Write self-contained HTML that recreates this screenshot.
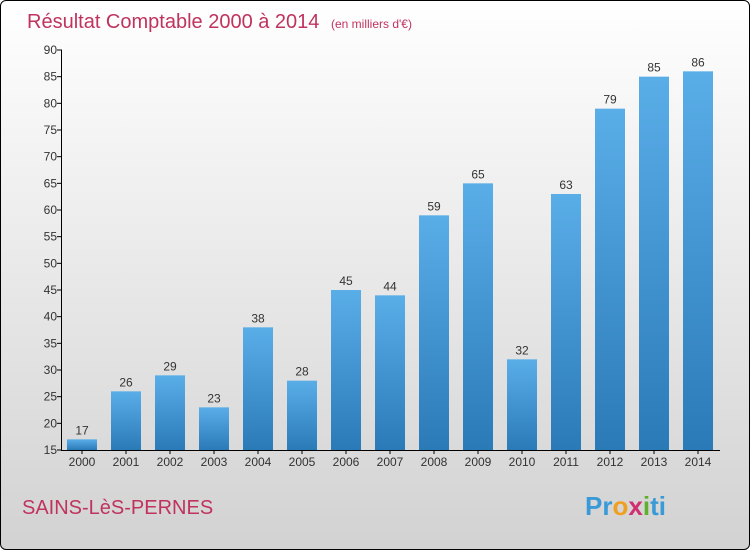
<!DOCTYPE html>
<html><head><meta charset="utf-8"><style>
body{margin:0;width:750px;height:550px;overflow:hidden}
#frame{position:absolute;left:0;top:0;width:748px;height:548px;border:1px solid #000;border-radius:6px;background:linear-gradient(#ffffff,#d2d2d2);font-family:"Liberation Sans",sans-serif}
</style></head><body>
<div id="frame">
<svg width="750" height="550" style="position:absolute;left:-1px;top:-1px">
<defs><linearGradient id="bg" x1="0" y1="0" x2="0" y2="1"><stop offset="0" stop-color="#5aaee8"/><stop offset="1" stop-color="#2a7ab8"/></linearGradient></defs>
<text x="27" y="28" font-size="20" fill="#c0335f">Résultat Comptable 2000 à 2014 <tspan font-size="12" dx="6">(en milliers d'€)</tspan></text>
<text x="22" y="514" font-size="20" fill="#c0335f">SAINS-LèS-PERNES</text>
<text x="585" y="515" font-size="26" font-weight="bold" fill="#3a9ad8"><tspan fill="#3a9ad8">Pr</tspan><tspan fill="#f0a020">o</tspan><tspan fill="#d03070">x</tspan><tspan fill="#60b030">i</tspan><tspan fill="#3a9ad8">ti</tspan></text>
<g id="plot"></g>
</svg></div>
<script>
const years=["2000","2001","2002","2003","2004","2005","2006","2007","2008","2009","2010","2011","2012","2013","2014"];
const values=[17,26,29,23,38,28,45,44,59,65,32,63,79,85,86];
const yTicks=[15,20,25,30,35,40,45,50,55,60,65,70,75,80,85,90];
const NS="http://www.w3.org/2000/svg";
const g=document.getElementById('plot');
const y=v=>450-(v-15)*400/75;
const x=i=>82+i*44;
function mk(t,a,txt){const e=document.createElementNS(NS,t);for(const k in a)e.setAttribute(k,a[k]);if(txt!==undefined)e.textContent=txt;g.appendChild(e);return e;}
yTicks.forEach(v=>{
 const l=mk('line',{x1:57,x2:62,y1:y(v),y2:y(v),stroke:'#000'});
 
 
 const t=mk('text',{x:57,y:y(v)+4,'text-anchor':'end','font-size':12,fill:'#333'},v);
 
 
});
values.forEach((v,i)=>{
 const r=mk('rect',{x:x(i)-15,y:y(v),width:30,height:450-y(v),fill:'url(#bg)'});
 
 
 const t=mk('text',{x:x(i),y:y(v)-5,'text-anchor':'middle','font-size':12,fill:'#333'},v);
 
 
 const k=mk('line',{x1:x(i),x2:x(i),y1:450,y2:454,stroke:'#000'});
 
 
 const xl=mk('text',{x:x(i),y:466,'text-anchor':'middle','font-size':12,fill:'#333'},years[i]);
 
 
});
const ya=mk('line',{x1:61.5,x2:61.5,y1:50,y2:450,stroke:'#000'});


const xa=mk('line',{x1:61,x2:720,y1:450.5,y2:450.5,stroke:'#000'});


</script>
</body></html>
